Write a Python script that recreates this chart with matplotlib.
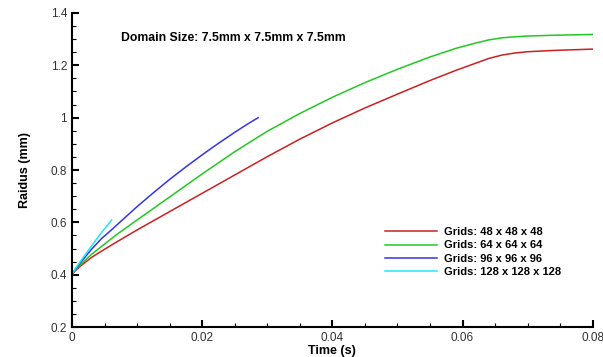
import matplotlib
matplotlib.use('Agg')
import matplotlib.pyplot as plt
from matplotlib.ticker import MultipleLocator, FormatStrFormatter

plt.rcParams['font.family'] = ['Liberation Sans', 'DejaVu Sans']

# values
t_48 = [0, 0.0005, 0.0015, 0.003, 0.0048, 0.007, 0.01, 0.015, 0.02, 0.025, 0.03, 0.035,
        0.04, 0.045, 0.05, 0.055, 0.059, 0.062, 0.064, 0.066, 0.068, 0.07, 0.074, 0.08]
r_48 = [0.4, 0.415, 0.437, 0.466, 0.494, 0.527, 0.571, 0.641, 0.711, 0.781, 0.851, 0.918,
        0.980, 1.037, 1.090, 1.142, 1.181, 1.208, 1.226, 1.239, 1.247, 1.252, 1.257, 1.262]

t_64 = [0, 0.0005, 0.0015, 0.003, 0.0048, 0.007, 0.01, 0.015, 0.02, 0.025, 0.03, 0.035,
        0.04, 0.045, 0.05, 0.055, 0.059, 0.062, 0.064, 0.066, 0.068, 0.07, 0.074, 0.08]
r_64 = [0.4, 0.418, 0.443, 0.478, 0.513, 0.556, 0.609, 0.697, 0.785, 0.870, 0.948, 1.016,
        1.078, 1.134, 1.185, 1.232, 1.265, 1.285, 1.297, 1.305, 1.309, 1.312, 1.315, 1.318]

t_96 = [0, 0.0005, 0.0015, 0.003, 0.0045, 0.0061, 0.008, 0.01, 0.0125, 0.015, 0.0175,
        0.02, 0.0225, 0.025, 0.0268, 0.0286]
r_96 = [0.4, 0.42, 0.452, 0.497, 0.537, 0.572, 0.615, 0.66, 0.713, 0.764, 0.812,
        0.858, 0.902, 0.944, 0.973, 1.0]

t_128 = [0, 0.0005, 0.0015, 0.003, 0.0045, 0.0061]
r_128 = [0.4, 0.422, 0.458, 0.51, 0.56, 0.609]

labels = ['Grids: 48 x 48 x 48', 'Grids: 64 x 64 x 64',
          'Grids: 96 x 96 x 96', 'Grids: 128 x 128 x 128']
colors = ['#cc2020', '#22c822', '#3535e6', '#20e8f0']

fig = plt.figure(figsize=(6.03, 3.57), dpi=100)
ax = fig.add_axes([0.1194, 0.084, 0.8636, 0.8796])

series = [(t_48, r_48), (t_64, r_64), (t_96, r_96), (t_128, r_128)]
for (t, r), lab, c in zip(series, labels, colors):
    ax.plot(t, r, color=c, lw=1.1, label=lab)

ax.set_xlim(0, 0.08)
ax.set_ylim(0.2, 1.4)
ax.xaxis.set_major_locator(MultipleLocator(0.02))
ax.xaxis.set_minor_locator(MultipleLocator(0.005))
ax.yaxis.set_major_locator(MultipleLocator(0.2))
ax.yaxis.set_minor_locator(MultipleLocator(0.05))
ax.xaxis.set_major_formatter(FormatStrFormatter('%g'))
ax.yaxis.set_major_formatter(FormatStrFormatter('%g'))

for s in ['top', 'right']:
    ax.spines[s].set_visible(False)
for s in ['left', 'bottom']:
    ax.spines[s].set_linewidth(1.5)
ax.tick_params(which='major', direction='in', length=5, width=1.5, labelsize=8.5,
               colors='black', labelcolor='#333333')
ax.tick_params(which='minor', direction='in', length=3, width=0.8)

ax.set_xlabel('Time (s)', fontsize=9, fontweight='bold', labelpad=1)
ax.set_ylabel('Raidus (mm)', fontsize=9, fontweight='bold', labelpad=14)

ax.text(0.095, 0.92, 'Domain Size: 7.5mm x 7.5mm x 7.5mm', transform=ax.transAxes,
        fontsize=8.8, fontweight='bold', va='center', ha='left')

ax.legend(loc='upper left', bbox_to_anchor=(0.601, 0.318), frameon=False,
          prop={'weight': 'bold', 'size': 8}, handlelength=4.7,
          handletextpad=0.6, labelspacing=0.3, borderpad=0, borderaxespad=0)

fig.savefig('out.png', dpi=100)
